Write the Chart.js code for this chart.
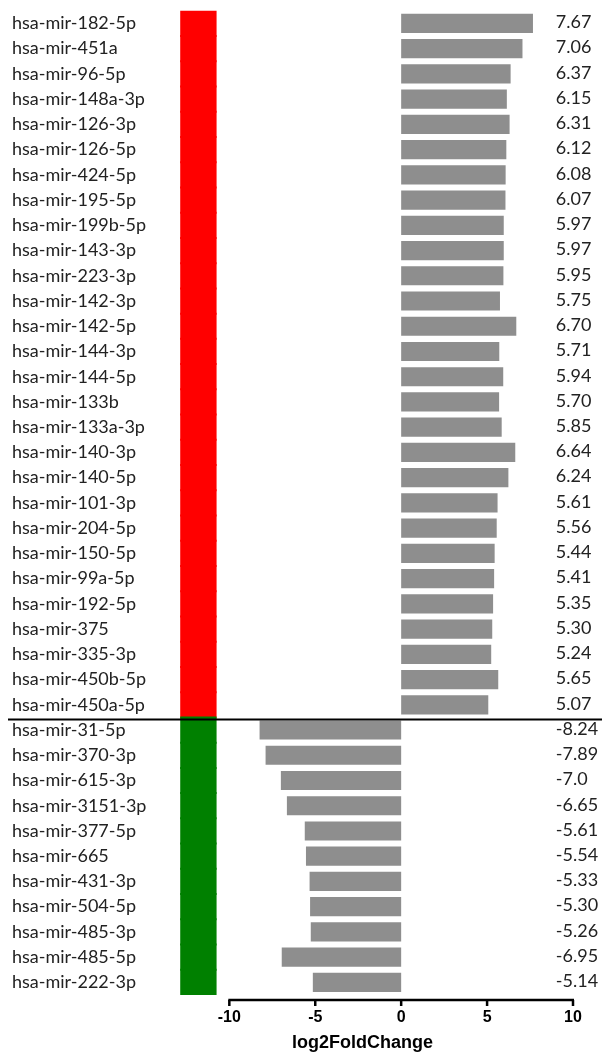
<!DOCTYPE html>
<html>
<head>
<meta charset="utf-8">
<script src="https://cdn.jsdelivr.net/npm/chart.js@4.4.1/dist/chart.umd.min.js"></script>
<style>
  html, body { margin: 0; padding: 0; background: #fff; }
  #wrap { width: 602px; height: 1054px; position: relative; }
</style>
</head>
<body>
<div id="wrap"><canvas id="c"></canvas></div>
<script>
// miRNA names, top to bottom
const mirnas = [
  'hsa-mir-182-5p', 'hsa-mir-451a', 'hsa-mir-96-5p', 'hsa-mir-148a-3p', 'hsa-mir-126-3p',
  'hsa-mir-126-5p', 'hsa-mir-424-5p', 'hsa-mir-195-5p', 'hsa-mir-199b-5p', 'hsa-mir-143-3p',
  'hsa-mir-223-3p', 'hsa-mir-142-3p', 'hsa-mir-142-5p', 'hsa-mir-144-3p', 'hsa-mir-144-5p',
  'hsa-mir-133b', 'hsa-mir-133a-3p', 'hsa-mir-140-3p', 'hsa-mir-140-5p', 'hsa-mir-101-3p',
  'hsa-mir-204-5p', 'hsa-mir-150-5p', 'hsa-mir-99a-5p', 'hsa-mir-192-5p', 'hsa-mir-375',
  'hsa-mir-335-3p', 'hsa-mir-450b-5p', 'hsa-mir-450a-5p',
  'hsa-mir-31-5p', 'hsa-mir-370-3p', 'hsa-mir-615-3p', 'hsa-mir-3151-3p', 'hsa-mir-377-5p',
  'hsa-mir-665', 'hsa-mir-431-3p', 'hsa-mir-504-5p', 'hsa-mir-485-3p', 'hsa-mir-485-5p',
  'hsa-mir-222-3p'
];

// log2 fold change per miRNA
const log2fc = [
  7.67, 7.06, 6.37, 6.15, 6.31, 6.12, 6.08, 6.07, 5.97, 5.97,
  5.95, 5.75, 6.70, 5.71, 5.94, 5.70, 5.85, 6.64, 6.24, 5.61,
  5.56, 5.44, 5.41, 5.35, 5.30, 5.24, 5.65, 5.07,
  -8.24, -7.89, -7.0, -6.65, -5.61, -5.54, -5.33, -5.30, -5.26, -6.95, -5.14
];

// printed value labels
const valueText = [
  '7.67', '7.06', '6.37', '6.15', '6.31', '6.12', '6.08', '6.07', '5.97', '5.97',
  '5.95', '5.75', '6.70', '5.71', '5.94', '5.70', '5.85', '6.64', '6.24', '5.61',
  '5.56', '5.44', '5.41', '5.35', '5.30', '5.24', '5.65', '5.07',
  '-8.24', '-7.89', '-7.0', '-6.65', '-5.61', '-5.54', '-5.33', '-5.30', '-5.26', '-6.95', '-5.14'
];

// x axis ticks
const xTicks = [-10, -5, 0, 5, 10];

// regulation group per miRNA
const groups = mirnas.map((_, i) => log2fc[i] > 0 ? 'up' : 'down');

// ---- layout / style ----
const X_MIN = -14.5, X_MAX = 10;
const BAND_FROM = -12.8, BAND_TO = -10.8;   // colour strip left of the axis
const LABEL_AT = 9.0;                        // value labels start here
const BAR_GREY = '#8e8e8e';
const GROUP_COLORS = { up: '#ff0000', down: '#008000' };
const LABEL_FONT = '18px Lato';
const TEXT_COLOR = '#222';

const overlay = {
  id: 'overlay',
  afterDraw(chart) {
    const ctx = chart.ctx;
    const xs = chart.scales.x, ys = chart.scales.y;
    ctx.save();
    // value labels
    ctx.font = LABEL_FONT;
    ctx.fillStyle = TEXT_COLOR;
    ctx.textAlign = 'left';
    ctx.textBaseline = 'middle';
    const lx = xs.getPixelForValue(LABEL_AT);
    valueText.forEach((t, i) => {
      ctx.fillText(t, lx, ys.getPixelForValue(i) - 1);
    });
    // divider between up- and down-regulated groups
    const split = groups.indexOf('down');
    const yDiv = (ys.getPixelForValue(split - 1) + ys.getPixelForValue(split)) / 2 + 2;
    ctx.strokeStyle = '#000';
    ctx.lineWidth = 2;
    ctx.beginPath();
    ctx.moveTo(8, yDiv);
    ctx.lineTo(chart.width, yDiv);
    ctx.stroke();
    // x axis line and tick marks
    const yAx = xs.top + 5;
    ctx.lineWidth = 2.5;
    ctx.beginPath();
    ctx.moveTo(xs.getPixelForValue(xTicks[0]) - 1, yAx);
    ctx.lineTo(xs.getPixelForValue(xTicks[xTicks.length - 1]) + 1, yAx);
    ctx.stroke();
    xTicks.forEach(v => {
      const px = xs.getPixelForValue(v);
      ctx.beginPath();
      ctx.moveTo(px, yAx);
      ctx.lineTo(px, yAx + 6);
      ctx.stroke();
    });
    ctx.restore();
  }
};

new Chart(document.getElementById('c'), {
  type: 'bar',
  data: {
    labels: mirnas,
    datasets: [
      {
        label: 'log2FoldChange',
        data: log2fc,
        backgroundColor: BAR_GREY,
        barPercentage: 0.76,
        categoryPercentage: 1,
        grouped: false,
        order: 1
      },
      {
        label: 'group',
        data: groups.map(() => [BAND_FROM, BAND_TO]),
        backgroundColor: groups.map(g => GROUP_COLORS[g]),
        borderWidth: 0,
        inflateAmount: 1,
        barPercentage: 1,
        categoryPercentage: 1,
        grouped: false,
        order: 2
      }
    ]
  },
  options: {
    indexAxis: 'y',
    responsive: true,
    maintainAspectRatio: false,
    animation: false,
    layout: { padding: { left: 12, right: 29, top: 10, bottom: 0 } },
    plugins: { legend: { display: false }, tooltip: { enabled: false } },
    scales: {
      y: {
        grid: { display: false, drawTicks: false },
        border: { display: false },
        ticks: {
          crossAlign: 'far',
          autoSkip: false,
          color: TEXT_COLOR,
          font: { family: 'Lato', size: 18 },
          padding: 0
        },
        afterFit(s) { s.width = 140; }
      },
      x: {
        min: X_MIN,
        max: X_MAX,
        grid: { display: false, drawTicks: false },
        border: { display: false },
        afterBuildTicks(s) { s.ticks = xTicks.map(v => ({ value: v })); },
        ticks: {
          color: '#000',
          font: { family: 'Liberation Sans', size: 16, weight: 'bold' },
          padding: 13,
          maxRotation: 0
        },
        title: {
          display: true,
          text: 'log2FoldChange',
          color: '#000',
          font: { family: 'Liberation Sans', size: 18, weight: 'bold' },
          padding: { top: 0, bottom: 0 }
        },
        afterFit(s) { s.height = 59; }
      }
    }
  },
  plugins: [overlay]
});
</script>
</body>
</html>
